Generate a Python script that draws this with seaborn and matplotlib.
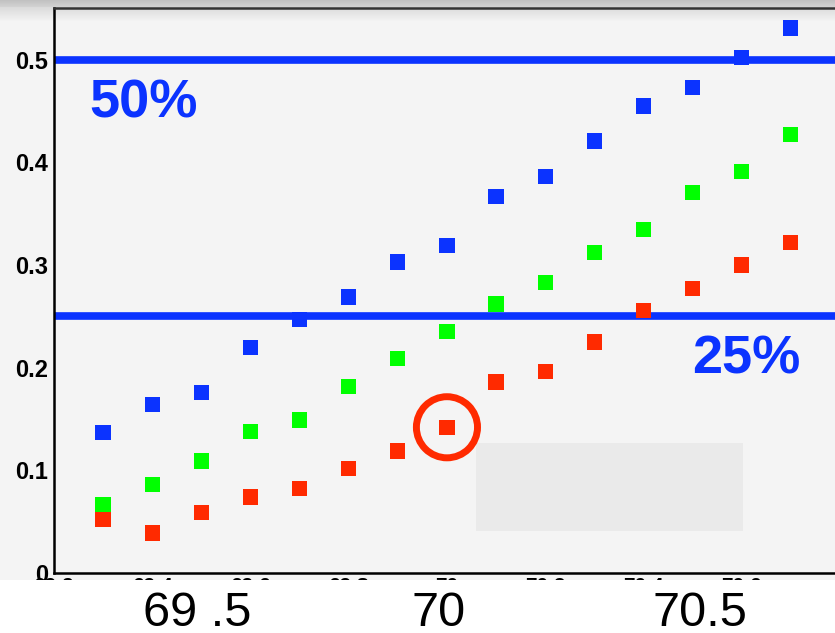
import numpy as np
import pandas as pd
import matplotlib
matplotlib.use("Agg")
import matplotlib.pyplot as plt
import seaborn as sns
from matplotlib.patches import Rectangle
from matplotlib.ticker import MultipleLocator, FixedLocator, FuncFormatter

# ---------------- data ----------------
x_values = [69.3, 69.4, 69.5, 69.6, 69.7, 69.8, 69.9, 70.0,
            70.1, 70.2, 70.3, 70.4, 70.5, 70.6, 70.7]
blue_vals = [0.137, 0.164, 0.176, 0.220, 0.247, 0.269, 0.303, 0.319,
             0.367, 0.386, 0.421, 0.455, 0.473, 0.502, 0.531]
green_vals = [0.067, 0.086, 0.109, 0.138, 0.149, 0.182, 0.209, 0.235,
              0.262, 0.283, 0.312, 0.335, 0.371, 0.391, 0.427]
red_vals = [0.052, 0.039, 0.059, 0.074, 0.082, 0.102, 0.119, 0.142,
            0.186, 0.196, 0.225, 0.256, 0.277, 0.300, 0.322]
series_names = ["blue", "green", "red"]
series_colors = {"blue": "#0b33ff", "green": "#00ff00", "red": "#ff2a00"}
ref_levels = [0.5, 0.25]
ref_labels = ["50%", "25%"]
highlight_point = (70.0, 0.142)
big_labels = ["69 .5", "70", "70.5"]
x_major_ticks = [69.2, 69.4, 69.6, 69.8, 70.0, 70.2, 70.4, 70.6, 70.8]

df = pd.DataFrame({
    "x": x_values * 3,
    "y": blue_vals + green_vals + red_vals,
    "series": [s for s in series_names for _ in x_values],
})

# ---------------- figure ----------------
W, H = 835, 633
sns.set_style("white")
plt.rcParams["font.family"] = ["Liberation Sans", "DejaVu Sans"]

fig = plt.figure(figsize=(W / 100, H / 100), dpi=100, facecolor="#f4f4f4")

def fx(px):
    return px / W

def fy(py):
    return 1 - py / H

# top shadow band
gax = fig.add_axes([0, fy(22), 1, 22 / H], zorder=-1)
rows = []
for i in range(22):
    if i < 7:
        v = 0.76 + 0.01 * i
    else:
        t = (i - 7) / 14
        v = 0.86 + (0.957 - 0.86) * t
    rows.append(v)
grad = np.array(rows)[:, None] * np.ones((1, 10))
gax.imshow(np.dstack([grad, grad, grad]), aspect="auto", extent=[0, 1, 0, 1])
gax.set_axis_off()

ax_left, ax_bottom_px, ax_top_px = 54, 573, 7.5
ax = fig.add_axes([fx(ax_left), fy(ax_bottom_px), 1 - fx(ax_left),
                   (ax_bottom_px - ax_top_px) / H], zorder=1)
ax.patch.set_visible(False)

ax.set_xlim(69.2, 70.79)
ax.set_ylim(0, 0.551)

# grey box
ax.add_patch(Rectangle((70.059, 0.041), 0.544, 0.086, facecolor="#eaeaea",
                       edgecolor="none", zorder=1))

# reference lines
for lvl in ref_levels:
    ax.axhline(lvl, color="#0b33ff", lw=5.5, zorder=2, solid_capstyle="butt")

sns.scatterplot(data=df, x="x", y="y", hue="series", palette=series_colors,
                marker="s", s=121, linewidth=0, legend=False, ax=ax, zorder=3)

# highlight circle
ax.scatter([highlight_point[0]], [highlight_point[1]], s=44 ** 2, marker="o",
           facecolors="none", edgecolors="#ff2a00", linewidths=5, zorder=4)

# axes styling
for side in ["left", "bottom", "top"]:
    ax.spines[side].set_visible(True)
    ax.spines[side].set_linewidth(1.8)
    ax.spines[side].set_color("#000000")
ax.spines["top"].set_color("#333333")
ax.spines["right"].set_visible(False)

ax.yaxis.set_major_locator(MultipleLocator(0.1))
ax.yaxis.set_minor_locator(MultipleLocator(0.02))
ax.yaxis.set_major_formatter(FuncFormatter(lambda v, p: "0" if abs(v) < 1e-9 else f"{v:.1f}"))
ax.xaxis.set_major_locator(FixedLocator(x_major_ticks))
ax.xaxis.set_minor_locator(MultipleLocator(0.05))
ax.xaxis.set_major_formatter(FuncFormatter(lambda v, p: f"{v:g}"))

ax.tick_params(axis="y", which="major", direction="in", length=17, width=1.3,
               color="#111111", labelcolor="black", pad=4, labelsize=17)
ax.tick_params(axis="y", which="minor", direction="in", length=9, width=1.3,
               color="#111111")
ax.tick_params(axis="x", which="major", direction="in", length=12, width=1.3,
               color="#111111", labelcolor="black", pad=3, labelsize=15)
ax.tick_params(axis="x", which="minor", direction="in", length=6.5, width=1.3,
               color="#111111")
for lab in ax.get_yticklabels() + ax.get_xticklabels():
    lab.set_fontweight("bold")
ax.set_xlabel("")
ax.set_ylabel("")

# percentage labels
fig.text(fx(89), fy(117), ref_labels[0], color="#0b33ff", fontsize=39,
         fontweight="bold", ha="left", va="baseline", zorder=6)
fig.text(fx(692), fy(373), ref_labels[1], color="#0b33ff", fontsize=39,
         fontweight="bold", ha="left", va="baseline", zorder=6)

# white band at the bottom covering the tick labels
fig.add_artist(Rectangle((0, 0), 1, fy(579.5), transform=fig.transFigure,
                         facecolor="white", edgecolor="none", zorder=5))

for lab, cx in zip(big_labels, [197, 439, 700]):
    fig.text(fx(cx), fy(626), lab, fontsize=35, color="black",
             ha="center", va="baseline", zorder=7)

fig.savefig("out.png", dpi=100, facecolor=fig.get_facecolor())
